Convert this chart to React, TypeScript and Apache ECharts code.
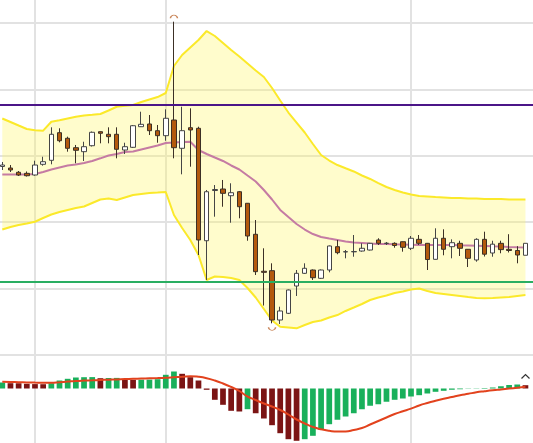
import React, { useEffect, useRef } from "react";
import * as echarts from "echarts";

const CATEGORIES = Array.from({ length: 66 }, (_, i) => `D${i + 1}`);

// [open, close, low, high]
const CANDLES: number[][] = [
  [118.39, 118.61, 117.86, 119.07],
  [118.16, 117.86, 117.56, 118.61],
  [117.52, 117.11, 116.96, 117.71],
  [117.36, 117.0, 116.88, 117.64],
  [117.11, 118.61, 117.0, 119.26],
  [118.72, 119.11, 118.51, 119.86],
  [119.32, 123.24, 118.72, 124.29],
  [123.48, 122.27, 122.03, 124.14],
  [122.64, 121.13, 120.62, 122.88],
  [121.22, 120.83, 118.87, 121.63],
  [120.62, 121.37, 119.22, 122.12],
  [121.52, 123.54, 121.4, 123.66],
  [123.63, 123.39, 121.88, 123.66],
  [123.24, 122.88, 121.88, 124.29],
  [123.24, 120.98, 119.62, 124.29],
  [120.87, 121.37, 120.27, 121.97],
  [121.28, 124.53, 121.17, 124.64],
  [124.38, 124.74, 124.34, 126.64],
  [124.79, 123.78, 123.13, 126.14],
  [123.78, 123.03, 121.97, 124.64],
  [123.03, 125.65, 122.27, 127.0],
  [125.39, 121.22, 119.62, 140.2],
  [121.13, 123.78, 117.21, 127.39],
  [124.23, 123.89, 118.36, 127.15],
  [124.14, 107.32, 105.06, 124.38],
  [107.21, 114.59, 101.3, 114.85],
  [114.77, 114.92, 110.83, 115.6],
  [115.0, 114.35, 112.33, 116.36],
  [113.99, 114.44, 109.92, 115.86],
  [114.59, 112.33, 110.59, 114.7],
  [112.85, 107.92, 107.21, 112.89],
  [108.18, 102.55, 102.05, 110.33],
  [102.61, 102.45, 97.45, 106.07],
  [102.7, 95.27, 94.77, 103.81],
  [95.27, 96.63, 94.67, 97.27],
  [96.28, 99.79, 96.17, 99.86],
  [100.39, 102.3, 98.89, 102.8],
  [102.3, 103.06, 102.2, 103.81],
  [102.8, 101.64, 101.3, 102.88],
  [101.55, 102.8, 101.45, 102.88],
  [102.8, 106.42, 102.45, 106.49],
  [106.31, 105.41, 105.17, 107.32],
  [105.52, 105.56, 104.56, 105.81],
  [105.54, 105.58, 104.8, 108.07],
  [105.66, 106.07, 105.56, 106.82],
  [105.81, 106.82, 105.74, 106.87],
  [107.32, 106.82, 106.57, 107.58],
  [106.8, 106.84, 106.57, 107.02],
  [106.82, 106.49, 106.16, 106.97],
  [107.06, 106.22, 105.56, 107.09],
  [106.07, 107.58, 105.81, 107.92],
  [107.42, 106.82, 106.57, 108.07],
  [106.82, 104.38, 102.8, 106.87],
  [104.41, 107.58, 104.38, 109.08],
  [107.58, 105.92, 105.02, 108.93],
  [106.31, 106.91, 104.56, 107.42],
  [106.82, 106.07, 104.91, 107.21],
  [105.92, 104.56, 103.25, 105.96],
  [104.31, 107.42, 104.05, 107.58],
  [107.42, 105.18, 104.83, 108.57],
  [105.36, 106.69, 104.8, 107.21],
  [106.82, 105.87, 105.32, 107.21],
  [105.92, 105.74, 105.44, 108.19],
  [105.74, 105.06, 103.81, 106.39],
  [105.02, 106.82, 105.02, 106.82],
];

const BB_UPPER = [
  125.62, 125.09, 124.56, 124.04, 123.84, 123.78, 125.13, 125.35, 125.62, 125.89,
  126.07, 126.17, 126.29, 126.82, 127.39, 127.53, 127.65, 128.1, 128.48, 128.85,
  129.46, 133.52, 135.18, 136.31, 137.44, 138.79, 138.04, 136.99, 135.93, 134.95,
  133.9, 132.85, 131.87, 130.21, 128.33, 126.52, 125.01, 123.51, 121.78, 120.12,
  119.29, 118.61, 118.12, 117.64, 117.03, 116.51, 115.9, 115.3, 114.85, 114.47,
  114.17, 113.95, 113.87, 113.79, 113.72, 113.64, 113.64, 113.57, 113.57, 113.49,
  113.49, 113.49, 113.42, 113.42, 113.42,
];

const BB_MID = [
  117.18, 117.18, 117.18, 117.18, 117.26, 117.56, 117.94, 118.24, 118.54, 118.69,
  118.92, 119.22, 119.62, 120.04, 120.27, 120.57, 120.65, 120.95, 121.25, 121.55,
  121.93, 122.0, 122.08, 122.12, 120.87, 120.27, 119.74, 119.22, 118.54, 117.94,
  117.03, 116.13, 114.85, 113.42, 111.84, 110.78, 109.73, 108.9, 108.22, 107.77,
  107.54, 107.32, 107.09, 106.94, 106.87, 106.79, 106.72, 106.72, 106.67, 106.64,
  106.61, 106.57, 106.57, 106.57, 106.57, 106.57, 106.52, 106.49, 106.46, 106.42,
  106.37, 106.33, 106.26, 106.22, 106.19,
];

const BB_LOWER = [
  108.9, 109.28, 109.58, 109.8, 110.07, 110.63, 111.16, 111.54, 111.84, 112.14,
  112.36, 112.89, 113.42, 113.57, 113.34, 113.72, 114.1, 114.25, 114.4, 114.47,
  114.55, 111.08, 109.13, 107.32, 105.06, 101.3, 101.82, 101.75, 101.6, 101.3,
  100.09, 98.66, 96.93, 95.2, 94.26, 94.14, 94.02, 94.52, 94.97, 95.2,
  95.65, 96.02, 96.63, 97.15, 97.68, 98.28, 98.66, 98.96, 99.34, 99.56,
  99.86, 100.01, 99.64, 99.34, 99.19, 99.04, 98.89, 98.73, 98.58, 98.54,
  98.58, 98.66, 98.73, 98.89, 99.04,
];

const MACD_HIST = [
  0.6, 0.53, 0.52, 0.47, 0.44, 0.43, 0.53, 0.8, 0.97, 1.1,
  1.13, 1.14, 1.03, 1.05, 1.06, 0.9, 0.87, 0.88, 0.89, 0.93,
  1.37, 1.7, 1.47, 1.13, 0.8, -0.13, -1.13, -1.63, -2.23, -2.3,
  -2.07, -2.47, -3.0, -3.67, -4.47, -5.07, -5.23, -5.07, -4.73, -4.13,
  -3.57, -3.13, -2.8, -2.47, -2.07, -1.73, -1.57, -1.33, -1.13, -1.0,
  -0.8, -0.67, -0.5, -0.33, -0.23, -0.13, -0.07, -0.03, 0.02, 0.05,
  0.1, 0.23, 0.35, 0.4, 0.33,
];

const MACD_SIGNAL = [
  0.68, 0.65, 0.63, 0.61, 0.59, 0.58, 0.58, 0.63, 0.69, 0.75,
  0.79, 0.82, 0.85, 0.88, 0.91, 0.94, 0.97, 1.0, 1.02, 1.04,
  1.07, 1.12, 1.17, 1.23, 1.17, 1.03, 0.8, 0.5, 0.15, -0.25,
  -0.8, -1.15, -1.5, -1.8, -2.15, -2.6, -3.1, -3.5, -3.85, -4.08,
  -4.23, -4.31, -4.3, -4.15, -3.95, -3.6, -3.25, -2.9, -2.55, -2.28,
  -2.01, -1.7, -1.45, -1.23, -1.03, -0.85, -0.67, -0.53, -0.38, -0.27,
  -0.17, -0.09, -0.01, 0.08, 0.17,
];

const RESISTANCE = 127.65;
const SUPPORT = 101.07;
const HIGH_MARK_INDEX = 21;
const LOW_MARK_INDEX = 33;
const VERTICAL_GRID_INDEX = [4, 20, 50];

const GRID_COLOR = "#e2e2e2";
const UP_COLOR = "#19b05b";
const DOWN_COLOR = "#7b1414";

export default function App() {
  const ref = useRef<HTMLDivElement | null>(null);

  useEffect(() => {
    if (!ref.current) return;
    document.body.style.margin = "0";
    const chart = echarts.init(ref.current, undefined, { renderer: "svg" });

    const vGridLines = {
      silent: true,
      symbol: ["none", "none"],
      z: 1,
      label: { show: false },
      emphasis: { disabled: true },
      lineStyle: { color: GRID_COLOR, width: 2, type: "solid" },
      data: VERTICAL_GRID_INDEX.map((i) => ({ xAxis: CATEGORIES[i] })),
    };

    const hiddenAxis = {
      axisLine: { show: false },
      axisTick: { show: false },
      axisLabel: { show: false },
    };

    const histData = MACD_HIST.map((v, i) => ({
      value: v,
      itemStyle: {
        color: i === 0 || v >= MACD_HIST[i - 1] ? UP_COLOR : DOWN_COLOR,
      },
    }));

    const bandWidth = BB_UPPER.map((u, i) => +(u - BB_LOWER[i]).toFixed(2));

    const option: any = {
      animation: false,
      grid: [
        { left: -1.8, top: -43.4, width: 539.5, height: 398.4, outerBoundsMode: "none" },
        { left: -1.8, top: 355, width: 539.5, height: 100, outerBoundsMode: "none" },
      ],
      xAxis: [
        {
          type: "category",
          gridIndex: 0,
          data: CATEGORIES,
          boundaryGap: true,
          splitLine: { show: false },
          ...hiddenAxis,
        },
        {
          type: "category",
          gridIndex: 1,
          data: CATEGORIES,
          boundaryGap: true,
          splitLine: { show: false },
          ...hiddenAxis,
        },
      ],
      yAxis: [
        {
          type: "value",
          gridIndex: 0,
          min: 90,
          max: 150,
          interval: 10,
          ...hiddenAxis,
          splitLine: { show: true, lineStyle: { color: GRID_COLOR, width: 2 } },
        },
        {
          type: "value",
          gridIndex: 1,
          min: -6.65,
          max: 3.35,
          ...hiddenAxis,
          splitLine: { show: false },
        },
      ],
      series: [
        {
          type: "line",
          name: "bbBase",
          data: BB_LOWER,
          stack: "bb",
          symbol: "none",
          silent: true,
          lineStyle: { opacity: 0 },
          z: 1,
          markLine: vGridLines,
        },
        {
          type: "line",
          name: "bbFill",
          data: bandWidth,
          stack: "bb",
          symbol: "none",
          silent: true,
          lineStyle: { opacity: 0 },
          areaStyle: { color: "rgba(255,245,100,0.33)", opacity: 1 },
          z: 1,
        },
        {
          type: "line",
          name: "upper",
          data: BB_UPPER,
          symbol: "none",
          silent: true,
          lineStyle: { color: "#fbe92a", width: 2 },
          z: 2,
        },
        {
          type: "line",
          name: "lower",
          data: BB_LOWER,
          symbol: "none",
          silent: true,
          lineStyle: { color: "#fbe92a", width: 2 },
          z: 2,
        },
        {
          type: "line",
          name: "mid",
          data: BB_MID,
          symbol: "none",
          silent: true,
          lineStyle: { color: "#c57ba3", width: 2 },
          z: 2,
        },
        {
          type: "candlestick",
          name: "price",
          data: CANDLES,
          barWidth: 5,
          clip: false,
          z: 3,
          itemStyle: {
            color: "#ffffff",
            color0: "#b3590d",
            borderColor: "#454545",
            borderColor0: "#3c3026",
            borderWidth: 1,
          },
          markLine: {
            silent: true,
            symbol: ["none", "none"],
            label: { show: false },
            emphasis: { disabled: true },
            data: [
              { yAxis: RESISTANCE, lineStyle: { color: "#4b1588", width: 2, type: "solid" } },
              { yAxis: SUPPORT, lineStyle: { color: "#2aae62", width: 2, type: "solid" } },
            ],
          },
          markPoint: {
            silent: true,
            label: { show: false },
            itemStyle: { color: "none", borderColor: "#c9865a", borderWidth: 1 },
            data: [
              {
                coord: [CATEGORIES[HIGH_MARK_INDEX], CANDLES[HIGH_MARK_INDEX][3]],
                symbol: "path://M0,4 A4,4 0 0,1 8,4",
                symbolSize: [7, 3],
                symbolOffset: [0, -5],
              },
              {
                coord: [CATEGORIES[LOW_MARK_INDEX], CANDLES[LOW_MARK_INDEX][2]],
                symbol: "path://M0,0 A4,4 0 0,0 8,0",
                symbolSize: [7, 3],
                symbolOffset: [0, 5.5],
              },
            ],
          },
        },
        {
          type: "bar",
          name: "hist",
          xAxisIndex: 1,
          yAxisIndex: 1,
          data: histData,
          barWidth: "70%",
          silent: true,
          z: 2,
          markLine: vGridLines,
        },
        {
          type: "line",
          name: "signal",
          xAxisIndex: 1,
          yAxisIndex: 1,
          data: MACD_SIGNAL,
          symbol: "none",
          smooth: true,
          silent: true,
          lineStyle: { color: "#e2421d", width: 2 },
          z: 3,
        },
      ],
      graphic: [
        {
          type: "polyline",
          shape: { points: [[521.5, 378.5], [525.5, 374.5], [529.5, 378.5]] },
          style: { stroke: "#333333", lineWidth: 1.2, fill: "none" },
          z: 10,
        },
      ],
    };

    chart.setOption(option);
    return () => chart.dispose();
  }, []);

  return (
    <div
      ref={ref}
      style={{ position: "fixed", left: 0, top: 0, width: 533, height: 443, background: "#ffffff" }}
    />
  );
}
